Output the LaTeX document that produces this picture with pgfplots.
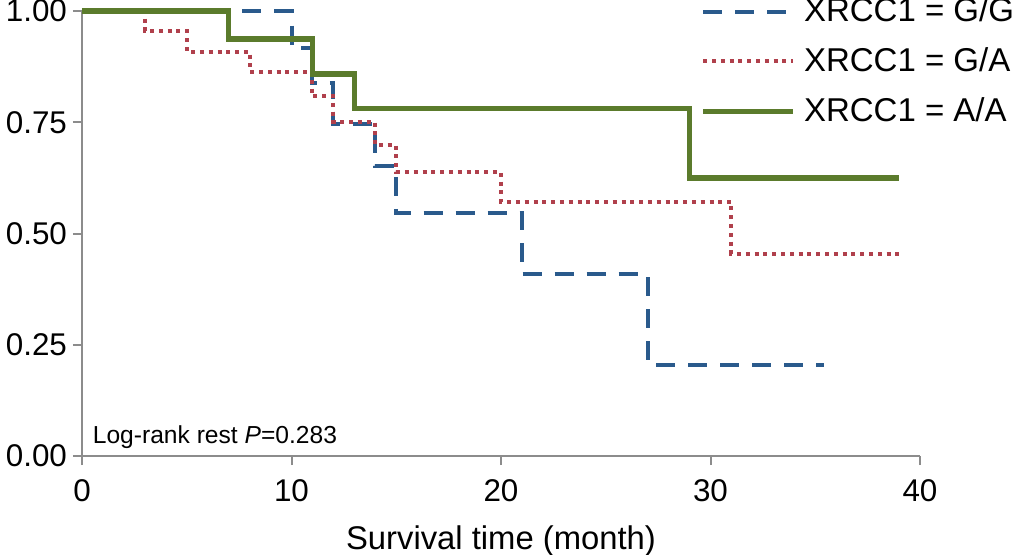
\documentclass[border=0pt]{standalone}
\usepackage{fontspec}
\setmainfont{Liberation Sans}
\usepackage{pgfplots}
\pgfplotsset{compat=1.18}
\definecolor{cblue}{HTML}{2A5A8C}
\definecolor{cred}{HTML}{B0404C}
\definecolor{cgreen}{HTML}{5B7B2C}
\definecolor{caxis}{HTML}{8C8C8C}
\begin{document}
\begin{tikzpicture}
\begin{axis}[
  at={(0,0)}, anchor=south west,
  scale only axis, width=419pt, height=222.5pt,
  xmin=0, xmax=40, ymin=0, ymax=1,
  axis lines=left,
  axis line style={-, draw=caxis, line width=1pt},
  xtick={0,10,20,30,40},
  ytick={0,0.25,0.5,0.75,1},
  yticklabel style={/pgf/number format/fixed, /pgf/number format/precision=2, /pgf/number format/fixed zerofill, xshift=0.5pt},
  xticklabel style={yshift=-3.5pt},
  /pgf/number format/assume math mode=true,
  tick align=outside,
  major tick length=4.5pt,
  tick style={draw=caxis, line width=1pt},
  ticklabel style={font=\fontsize{15.7}{19}\selectfont},
  xlabel={Survival time (month)},
  xlabel style={font=\fontsize{16.4}{19}\selectfont, yshift=-5.5pt},
  clip=false,
  legend style={at={(axis cs:29.5,1.039)}, anchor=north west, draw=none, fill=none,
    font=\fontsize{16.5}{19}\selectfont, row sep=7.5pt, inner sep=0pt,
    nodes={inner xsep=4pt}},
  legend cell align=left,
  legend image code/.code={\draw[#1] (0pt,0pt) -- (45pt,0pt);},
]
\addplot[const plot, cblue, line width=2pt, dash pattern=on 9.5pt off 6.5pt] coordinates {
 (0,1) (10,0.917) (11,0.838) (12,0.745) (14,0.652) (15,0.545) (21,0.408) (27,0.205) (35.4,0.205)};
\addlegendentry{XRCC1 = G/G}
\addplot[const plot, cred, line width=2pt, dash pattern=on 2pt off 2.4pt] coordinates {
 (0,1) (3,0.955) (5,0.909) (8,0.864) (11,0.808) (12,0.75) (14,0.698) (15,0.638) (20,0.571) (31,0.455) (39,0.455)};
\addlegendentry{XRCC1 = G/A}
\addplot[const plot, cgreen, line width=2.8pt] coordinates {
 (0,1) (7,0.9375) (11,0.859) (13,0.781) (29,0.625) (39,0.625)};
\addlegendentry{XRCC1 = A/A}
\node[anchor=base west, inner sep=0pt, font=\fontsize{12.3}{14}\selectfont] at (axis cs:0.5,0.029) {Log-rank rest \textit{P}=0.283};
\end{axis}
\pgfresetboundingbox
\useasboundingbox (-41pt,-49pt) rectangle (466.5pt,228pt);
\end{tikzpicture}
\end{document}
